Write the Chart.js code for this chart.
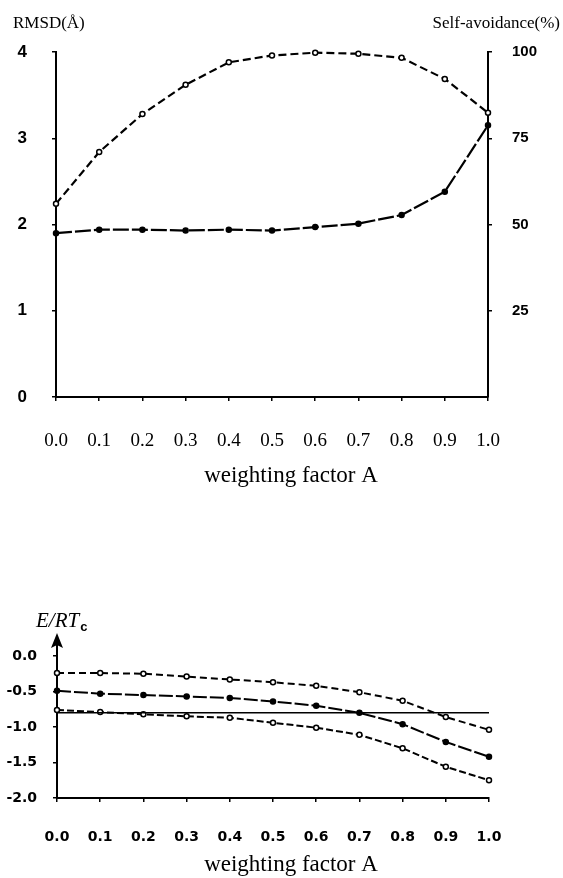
<!DOCTYPE html>
<html>
<head>
<meta charset="utf-8">
<script src="https://cdn.jsdelivr.net/npm/chart.js@4"></script>
<style>
  html,body{margin:0;padding:0;background:#fff;}
  body{width:563px;height:878px;position:relative;overflow:hidden;}
  canvas{position:absolute;left:0;}
</style>
</head>
<body>
<canvas id="top" width="563" height="500" style="top:0px"></canvas>
<canvas id="bottom" width="563" height="340" style="top:538px"></canvas>
<script>
// ---- data ----
const xLabels = ['0.0','0.1','0.2','0.3','0.4','0.5','0.6','0.7','0.8','0.9','1.0'];

// top panel
const rmsd       = [1.90, 1.94, 1.94, 1.93, 1.94, 1.93, 1.97, 2.01, 2.11, 2.38, 3.15];
const selfAvoid  = [56, 71, 82, 90.5, 97, 99, 99.8, 99.5, 98.3, 92.2, 82.4];
const rmsdTicks  = [0, 1, 2, 3, 4];
const avoidTicks = [25, 50, 75, 100];

// bottom panel (E/RTc)
const eUpper = [-0.24, -0.24, -0.25, -0.29, -0.33, -0.37, -0.42, -0.51, -0.63, -0.86, -1.04];
const eMean  = [-0.49, -0.53, -0.55, -0.57, -0.59, -0.64, -0.70, -0.80, -0.96, -1.21, -1.42];
const eLower = [-0.76, -0.79, -0.82, -0.85, -0.87, -0.94, -1.01, -1.11, -1.30, -1.56, -1.75];
const eRef   = [-0.80, -0.80, -0.80, -0.80, -0.80, -0.80, -0.80, -0.80, -0.80, -0.80, -0.80];
const energyTicks = [-2.0, -1.5, -1.0, -0.5, 0.0];

// ---- helpers ----
const textPlugin = {
  id: 'extraText',
  afterDraw(chart, args, opts) {
    const ctx = chart.ctx;
    ctx.save();
    ctx.fillStyle = '#000';
    ctx.textBaseline = 'alphabetic';
    (opts.items || []).forEach(it => {
      ctx.font = it.font;
      ctx.textAlign = it.align || 'left';
      ctx.fillText(it.text, it.x, it.y);
      if (it.sub) {
        const w = ctx.measureText(it.text).width;
        ctx.font = it.subFont;
        ctx.textAlign = 'left';
        ctx.fillText(it.sub, it.x + w + 1, it.y + 4);
      }
    });
    ctx.restore();
  }
};

const arrowPlugin = {
  id: 'axisArrow',
  afterDraw(chart, args, opts) {
    if (!opts.enabled) return;
    const ctx = chart.ctx, a = chart.chartArea, x = a.left;
    ctx.save();
    ctx.strokeStyle = '#000';
    ctx.fillStyle = '#000';
    ctx.lineWidth = 2;
    ctx.beginPath();
    ctx.moveTo(x, a.top + 1);
    ctx.lineTo(x, a.top - 12);
    ctx.stroke();
    ctx.beginPath();
    ctx.moveTo(x, a.top - 23);
    ctx.lineTo(x - 6, a.top - 8);
    ctx.lineTo(x, a.top - 11);
    ctx.lineTo(x + 6, a.top - 8);
    ctx.closePath();
    ctx.fill();
    ctx.restore();
  }
};

function lineDs(label, data, axis, dash, filled, width) {
  return {
    label, data, yAxisID: axis,
    borderColor: '#000', borderWidth: width || 2, borderDash: dash,
    pointRadius: filled === null ? 0 : 2.5,
    pointBackgroundColor: filled ? '#000' : '#fff',
    pointBorderColor: '#000', pointBorderWidth: 1.5,
    tension: 0, clip: false, fill: false
  };
}

const axisCommon = {
  grid: { drawOnChartArea: false, drawTicks: true, tickLength: 4, color: '#000', lineWidth: 1.5 },
  border: { display: true, color: '#000', width: 2 }
};

// ---- top chart ----
new Chart(document.getElementById('top'), {
  type: 'line',
  data: {
    labels: xLabels,
    datasets: [
      lineDs('Self-avoidance(%)', selfAvoid, 'y1', [8, 4], false, 2.2),
      lineDs('RMSD(Å)', rmsd, 'y', [16, 3], true, 2.2)
    ]
  },
  options: {
    responsive: false, animation: false, events: [],
    layout: { padding: { top: 52, left: 0, right: 0, bottom: 0 } },
    plugins: {
      legend: { display: false }, tooltip: { enabled: false },
      extraText: { items: [
        { text: 'RMSD(Å)', x: 13, y: 28, font: '17px "Liberation Serif"' },
        { text: 'Self-avoidance(%)', x: 560, y: 28, align: 'right', font: '17px "Liberation Serif"' },
        { text: 'weighting factor A', x: 291, y: 482, align: 'center', font: '23px "Liberation Serif"' }
      ] }
    },
    scales: {
      x: Object.assign({}, axisCommon, {
        type: 'category', offset: false,
        ticks: { color: '#000', font: { family: 'Liberation Serif', size: 19 }, padding: 29, autoSkip: false, maxRotation: 0 },
        afterFit: s => { s.height = 103; }
      }),
      y: Object.assign({}, axisCommon, {
        position: 'left', min: 0, max: 4,
        afterBuildTicks: s => { s.ticks = rmsdTicks.map(v => ({ value: v })); },
        ticks: { color: '#000', font: { family: 'Liberation Sans', size: 17, weight: 'bold' }, padding: 25, callback: v => String(v) },
        afterFit: s => { s.width = 56; }
      }),
      y1: Object.assign({}, axisCommon, {
        position: 'right', min: 0, max: 100,
        afterBuildTicks: s => { s.ticks = avoidTicks.map(v => ({ value: v })); },
        ticks: { color: '#000', font: { family: 'Liberation Sans', size: 15, weight: 'bold' }, padding: 20, callback: v => String(v) },
        afterFit: s => { s.width = 75; }
      })
    }
  },
  plugins: [textPlugin]
});

// ---- bottom chart ----
new Chart(document.getElementById('bottom'), {
  type: 'line',
  data: {
    labels: xLabels,
    datasets: [
      lineDs('upper', eUpper, 'y', [7, 4], false),
      lineDs('mean', eMean, 'y', [14, 3], true),
      lineDs('reference', eRef, 'y', [], null, 1.5),
      lineDs('lower', eLower, 'y', [7, 3], false)
    ]
  },
  options: {
    responsive: false, animation: false, events: [],
    layout: { padding: { top: 118, left: 0, right: 74, bottom: 0 } },
    plugins: {
      legend: { display: false }, tooltip: { enabled: false },
      axisArrow: { enabled: true },
      extraText: { items: [
        { text: 'E/RT', sub: 'c', x: 36, y: 89, font: 'italic 21px "Liberation Serif"', subFont: 'bold 13px "Liberation Sans"' },
        { text: 'weighting factor A', x: 291, y: 333, align: 'center', font: '23px "Liberation Serif"' }
      ] }
    },
    scales: {
      x: Object.assign({}, axisCommon, {
        type: 'category', offset: false,
        ticks: { color: '#000', font: { family: 'DejaVu Sans', size: 14, weight: 'bold' }, padding: 27, autoSkip: false, maxRotation: 0 },
        afterFit: s => { s.height = 80; }
      }),
      y: Object.assign({}, axisCommon, {
        position: 'left', min: -2, max: 0,
        afterBuildTicks: s => { s.ticks = energyTicks.map(v => ({ value: v })); },
        ticks: { color: '#000', font: { family: 'DejaVu Sans', size: 14, weight: 'bold' }, padding: 16, callback: v => Number(v).toFixed(1) },
        afterFit: s => { s.width = 57; }
      })
    }
  },
  plugins: [textPlugin, arrowPlugin]
});
</script>
</body>
</html>
